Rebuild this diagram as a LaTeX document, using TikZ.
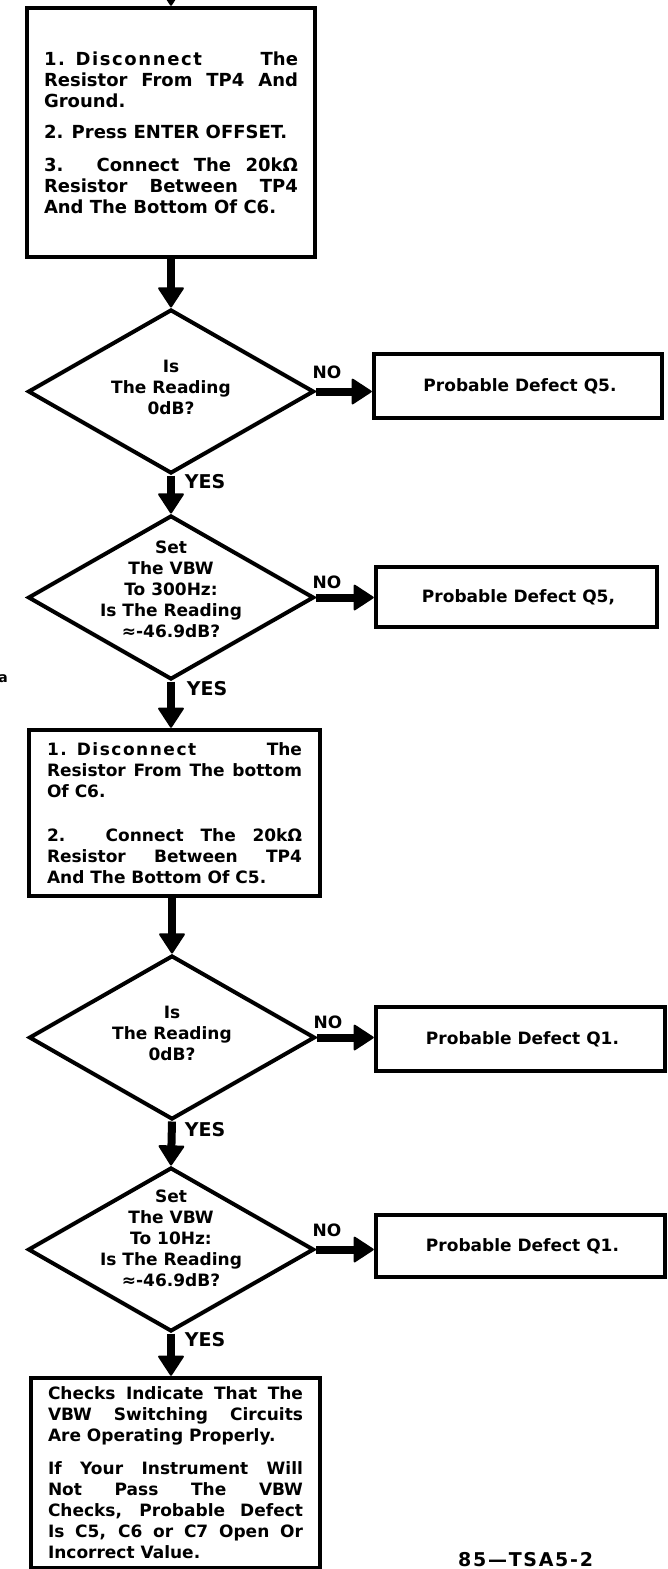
\documentclass[tikz,border=0pt]{standalone}
\usepackage{fontspec}
\setmainfont{DejaVu Sans}
\usetikzlibrary{arrows.meta,shapes.geometric}
\setlength{\parindent}{0pt}
\tolerance=10000
\hyphenpenalty=10000
\exhyphenpenalty=10000
\newcommand{\spaced}[1]{{\addfontfeature{LetterSpace=9}#1}}
\begin{document}
\begin{tikzpicture}[x=1pt,y=-1pt,
  procbox/.style={draw,rectangle,line width=4.5pt,inner sep=0pt,align=justify,
    font=\bfseries\fontsize{17}{21}\selectfont},
  qbox/.style={draw,rectangle,line width=4.5pt,inner sep=0pt,
    font=\bfseries\fontsize{17}{21}\selectfont},
  dia/.style={draw,diamond,line width=4pt,minimum width=286pt,minimum height=164pt,inner sep=0pt},
  dtext/.style={align=center,inner sep=0pt,font=\bfseries\fontsize{17}{21}\selectfont},
  flow/.style={line width=8pt,-{Triangle[length=21pt,width=27pt,line width=2pt,round]}},
  nolab/.style={inner sep=0pt,font=\bfseries\fontsize{17}{20}\selectfont},
  yeslab/.style={inner sep=0pt,font=\bfseries\fontsize{19}{22}\selectfont}]
\useasboundingbox (0,0) rectangle (667,1569);

% boxes
\node[procbox,font=\bfseries\fontsize{18}{21}\selectfont,text width=254pt,minimum width=288pt,minimum height=249pt]
  (box1) at (171,132.5) {\spaced{1. Disconnect}\hfill The\linebreak Resistor From TP4 And\linebreak Ground.\par\vspace{10pt}2. Press ENTER OFFSET.\par\vspace{12pt}3. Connect The 20kΩ\linebreak Resistor Between TP4\linebreak And The Bottom Of C6.};

\node[dia] (d1) at (171,391.5) {};
\node[dtext] (d1t) at (171,387) {Is\\The Reading\\0dB?};
\node[qbox,minimum width=288pt,minimum height=64pt] (q1) at (518,386) {\hspace*{4pt}Probable Defect Q5.};

\node[dia] (d2) at (171,597.5) {};
\node[dtext] (d2t) at (171,589) {Set\\The VBW\\To 300Hz:\\Is The Reading\\≈-46.9dB?};
\node[qbox,minimum width=281pt,minimum height=60pt] (q2) at (516.5,597) {\hspace*{4pt}Probable Defect Q5,};

\node[procbox,text width=255pt,minimum width=291pt,minimum height=166pt]
  (box2) at (174.5,813) {\spaced{1. Disconnect}\hfill The\linebreak Resistor From The bottom\linebreak Of C6.\par\vspace{23pt}2. Connect The 20kΩ\linebreak Resistor Between TP4\linebreak And The Bottom Of C5.};

\node[dia] (d3) at (172,1037.5) {};
\node[dtext] (d3t) at (172,1033.5) {Is\\The Reading\\0dB?};
\node[qbox,minimum width=289pt,minimum height=64pt] (q3) at (520.5,1039) {\hspace*{4pt}Probable Defect Q1.};

\node[dia] (d4) at (171,1249.5) {};
\node[dtext] (d4t) at (171,1238.5) {Set\\The VBW\\To 10Hz:\\Is The Reading\\≈-46.9dB?};
\node[qbox,minimum width=289pt,minimum height=62pt] (q4) at (520.5,1246) {\hspace*{4pt}Probable Defect Q1.};

\node[procbox,text width=255pt,minimum width=289pt,minimum height=190pt]
  (box3) at (175.5,1473) {Checks Indicate That The\linebreak VBW Switching Circuits\linebreak Are Operating Properly.\par\vspace{12pt}If Your Instrument Will\linebreak Not Pass The VBW\linebreak Checks, Probable Defect\linebreak Is C5, C6 or C7 Open Or\linebreak Incorrect Value.};

% labels
\node[nolab] (no1) at (327,372.5) {NO};
\node[nolab] (no2) at (327,582.5) {NO};
\node[nolab] (no3) at (328,1022.5) {NO};
\node[nolab] (no4) at (327,1230.5) {NO};
\node[yeslab] (yes1) at (205,481.5) {YES};
\node[yeslab] (yes2) at (207,688.5) {YES};
\node[yeslab] (yes3) at (205,1130) {YES};
\node[yeslab] (yes4) at (205,1340) {YES};

\node[inner sep=0pt,anchor=base west,font=\bfseries\fontsize{19}{24}\selectfont] (fig) at (458,1566) {\spaced{85—TSA5-2}};
\node[inner sep=0pt,anchor=base east,font=\bfseries\fontsize{14}{16}\selectfont] (stray) at (8,682) {a};

% connectors
\coordinate (start) at (171,-40);
\draw[flow] (start) -- (box1.north);
\draw[flow] (box1.south) -- (d1.north);
\draw[flow] (d1.east) -- (d1.east -| q1.west);
\draw[flow] (d1.south) -- (d2.north);
\draw[flow] (d2.east) -- (d2.east -| q2.west);
\draw[flow] (d2.south) -- (d2.south |- box2.north);
\draw[flow] (box2.south -| d3.north) -- (d3.north);
\draw[flow] (d3.east) -- (d3.east -| q3.west);
\draw[flow] (d3.south) -- (d4.north);
\draw[flow] (d4.east) -- (d4.east -| q4.west);
\draw[flow] (d4.south) -- (d4.south |- box3.north);
\end{tikzpicture}
\end{document}
